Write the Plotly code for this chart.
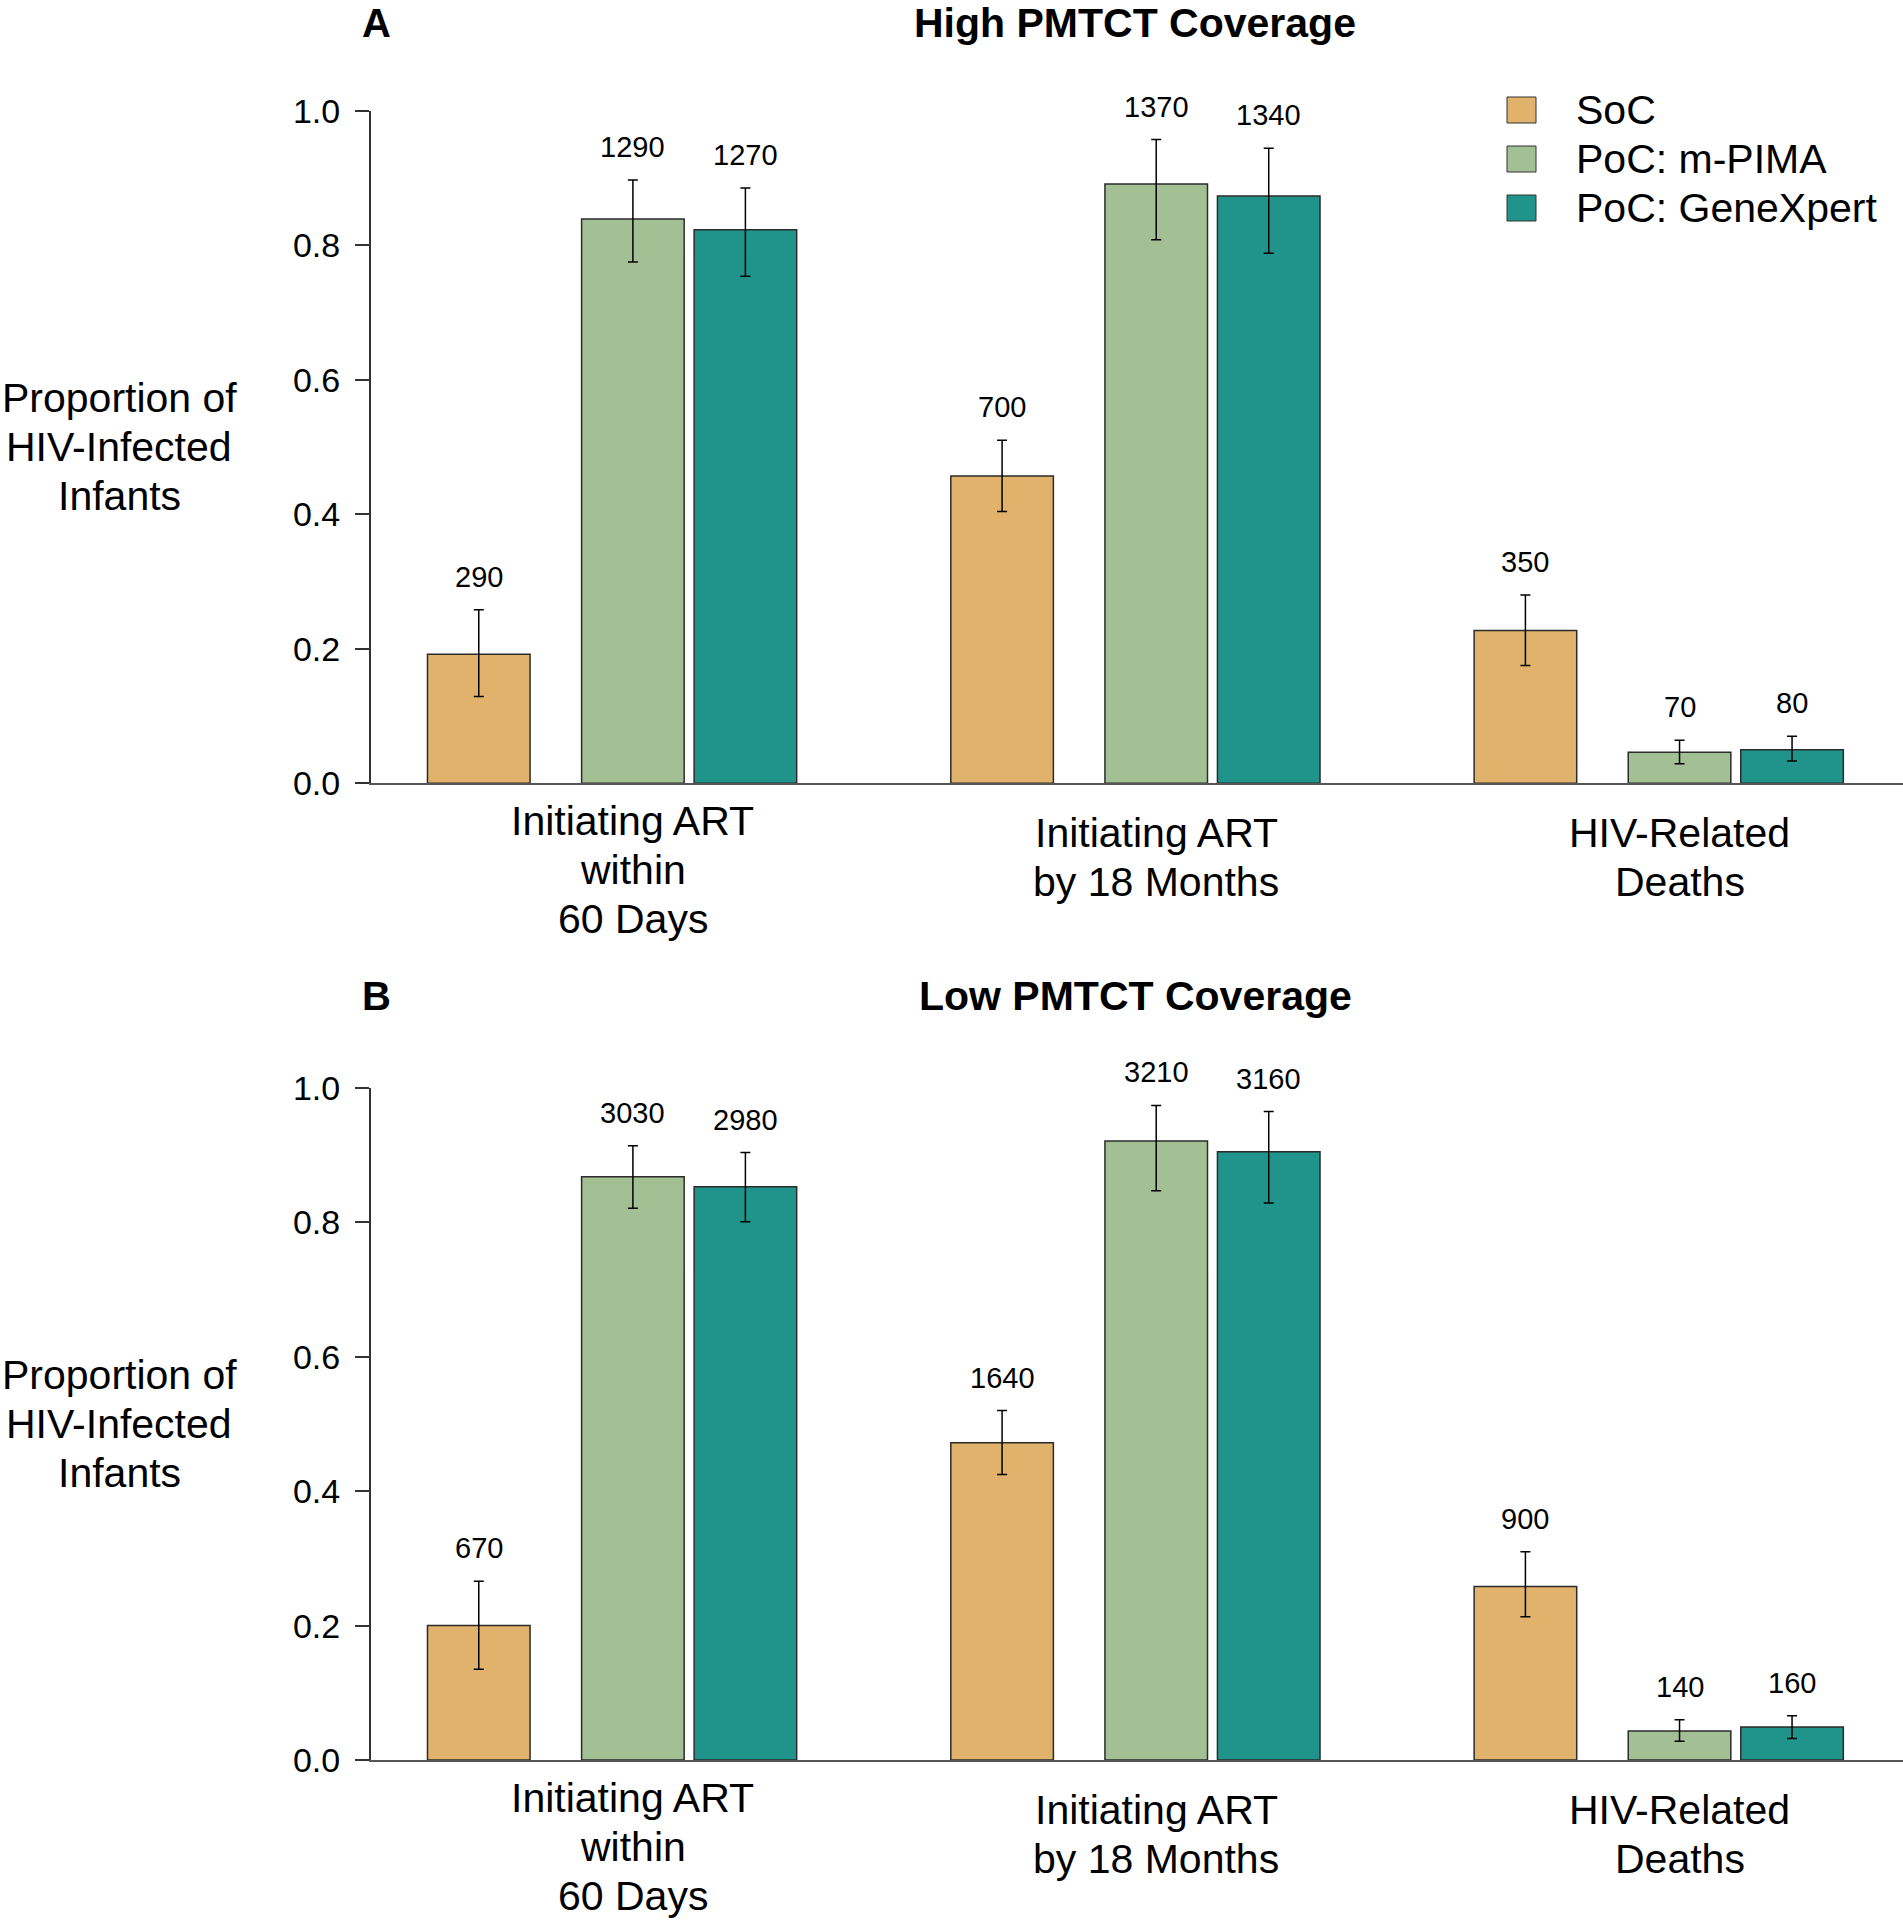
import plotly.graph_objects as go
from plotly.subplots import make_subplots

# category labels (one entry per line) and series names
categories = [["Initiating ART", "within", "60 Days"],
              ["Initiating ART", "by 18 Months"],
              ["HIV-Related", "Deaths"]]
series_names = ["SoC", "PoC: m-PIMA", "PoC: GeneXpert"]
y_ticks = [0.0, 0.2, 0.4, 0.6, 0.8, 1.0]
panel_titles = ["High PMTCT Coverage", "Low PMTCT Coverage"]
panel_letters = ["A", "B"]

# Panel A - high PMTCT coverage
high_soc = [0.192, 0.457, 0.227]
high_soc_lo = [0.129, 0.404, 0.175]
high_soc_hi = [0.258, 0.510, 0.280]
high_soc_n = [290, 700, 350]

high_pima = [0.839, 0.891, 0.046]
high_pima_lo = [0.775, 0.808, 0.029]
high_pima_hi = [0.897, 0.957, 0.064]
high_pima_n = [1290, 1370, 70]

high_gx = [0.823, 0.873, 0.050]
high_gx_lo = [0.754, 0.788, 0.033]
high_gx_hi = [0.885, 0.944, 0.070]
high_gx_n = [1270, 1340, 80]

# Panel B - low PMTCT coverage
low_soc = [0.200, 0.472, 0.258]
low_soc_lo = [0.135, 0.425, 0.213]
low_soc_hi = [0.266, 0.520, 0.310]
low_soc_n = [670, 1640, 900]

low_pima = [0.868, 0.921, 0.043]
low_pima_lo = [0.821, 0.847, 0.028]
low_pima_hi = [0.914, 0.974, 0.060]
low_pima_n = [3030, 3210, 140]

low_gx = [0.853, 0.905, 0.049]
low_gx_lo = [0.801, 0.829, 0.032]
low_gx_hi = [0.904, 0.965, 0.066]
low_gx_n = [2980, 3160, 160]

panels = [
    [(high_soc, high_soc_lo, high_soc_hi, high_soc_n),
     (high_pima, high_pima_lo, high_pima_hi, high_pima_n),
     (high_gx, high_gx_lo, high_gx_hi, high_gx_n)],
    [(low_soc, low_soc_lo, low_soc_hi, low_soc_n),
     (low_pima, low_pima_lo, low_pima_hi, low_pima_n),
     (low_gx, low_gx_lo, low_gx_hi, low_gx_n)],
]

#%% styling
W, H = 1903, 1920
FONT = "Liberation Sans, Arial, sans-serif"
colors = ["#E1B26B", "#A3C095", "#20948B"]
bar_centre = [-0.2945, 0.0, 0.215]   # bar centre relative to group position
bar_width = 0.196
line_gap = 49                        # px between text lines
x_dom = [370.7 / W, 1.0]
y_doms = [[1 - 783.3 / H, 1 - 110.7 / H], [1 - 1760 / H, 1 - 1088 / H]]
title_y = [23, 996]

fig = make_subplots(rows=2, cols=1)

for p, panel in enumerate(panels):
    row = p + 1
    xa = "x" if row == 1 else f"x{row}"
    ya = "y" if row == 1 else f"y{row}"
    for k, (vals, lo, hi, n) in enumerate(panel):
        pos = list(range(len(vals)))
        fig.add_trace(
            go.Bar(
                x=pos, y=vals,
                width=bar_width,
                offset=bar_centre[k] - bar_width / 2,
                name=series_names[k],
                marker=dict(color=colors[k], line=dict(color="#2b2b2b", width=1.5)),
                error_y=dict(type="data", symmetric=False,
                             array=[h - v for h, v in zip(hi, vals)],
                             arrayminus=[v - l for v, l in zip(vals, lo)],
                             color="black", thickness=1.5, width=5),
                showlegend=False,
            ), row=row, col=1
        )
        # sample size above each error bar
        for i, (h, cnt) in enumerate(zip(hi, n)):
            fig.add_annotation(x=i + bar_centre[k], y=h, xref=xa, yref=ya,
                               text=str(cnt), showarrow=False,
                               xanchor="center", yanchor="middle",
                               yshift=33, font=dict(size=29))

    # category labels under each group
    for i, lines in enumerate(categories):
        nl = len(lines)
        centre = 50 + 12.25 * nl
        for j, line in enumerate(lines):
            fig.add_annotation(x=i, y=0, xref=xa, yref=f"{ya} domain",
                               text=line, showarrow=False,
                               xanchor="center", yanchor="middle",
                               yshift=-(centre + (j - (nl - 1) / 2) * line_gap),
                               font=dict(size=41))

    # horizontal y-axis title
    for j, line in enumerate(["Proportion of", "HIV-Infected", "Infants"]):
        fig.add_annotation(x=119 / W, y=0.5, xref="paper", yref=f"{ya} domain",
                           text=line, showarrow=False,
                           xanchor="center", yanchor="middle",
                           yshift=-(j - 1) * line_gap, font=dict(size=41))

    # panel letter and title
    fig.add_annotation(x=376 / W, y=1 - title_y[p] / H, xref="paper", yref="paper",
                       text=f"<b>{panel_letters[p]}</b>", showarrow=False,
                       xanchor="center", yanchor="middle", font=dict(size=40))
    fig.add_annotation(x=1135 / W, y=1 - title_y[p] / H, xref="paper", yref="paper",
                       text=f"<b>{panel_titles[p]}</b>", showarrow=False,
                       xanchor="center", yanchor="middle", font=dict(size=41))

# legend drawn by hand so the swatches can be large
legend_y = [110, 159, 208]
for k, name in enumerate(series_names):
    cy = legend_y[k]
    fig.add_shape(type="rect", xref="paper", yref="paper",
                  x0=1507 / W, x1=1536 / W, y0=1 - (cy + 13) / H, y1=1 - (cy - 13) / H,
                  fillcolor=colors[k], line=dict(color="#333333", width=1))
    fig.add_annotation(x=1574 / W, y=1 - cy / H, xref="paper", yref="paper",
                       text=name, showarrow=False, xanchor="left", yanchor="middle",
                       font=dict(size=41))

fig.update_layout(
    width=W, height=H,
    margin=dict(l=0, r=0, t=0, b=0, autoexpand=False),
    plot_bgcolor="white", paper_bgcolor="white",
    barmode="overlay",
    showlegend=False,
    font=dict(family=FONT, color="black"),
    xaxis=dict(domain=x_dom), xaxis2=dict(domain=x_dom),
    yaxis=dict(domain=y_doms[0]), yaxis2=dict(domain=y_doms[1]),
)
fig.update_xaxes(range=[-0.501, 2.427], showline=True, linecolor="#555555", linewidth=1.5,
                 ticks="", showticklabels=False, showgrid=False, zeroline=False,
                 automargin=False)
fig.update_yaxes(range=[0, 1], tickvals=y_ticks, tickformat=".1f",
                 ticks="outside", ticklen=14, tickwidth=1.5, tickcolor="#333333",
                 showline=True, linecolor="#333333", linewidth=1.5,
                 showgrid=False, zeroline=False, tickfont=dict(size=34),
                 ticklabelstandoff=8, automargin=False)

fig.write_html("out.html", config={"displayModeBar": False},
               post_script="document.body.style.margin='0';")
